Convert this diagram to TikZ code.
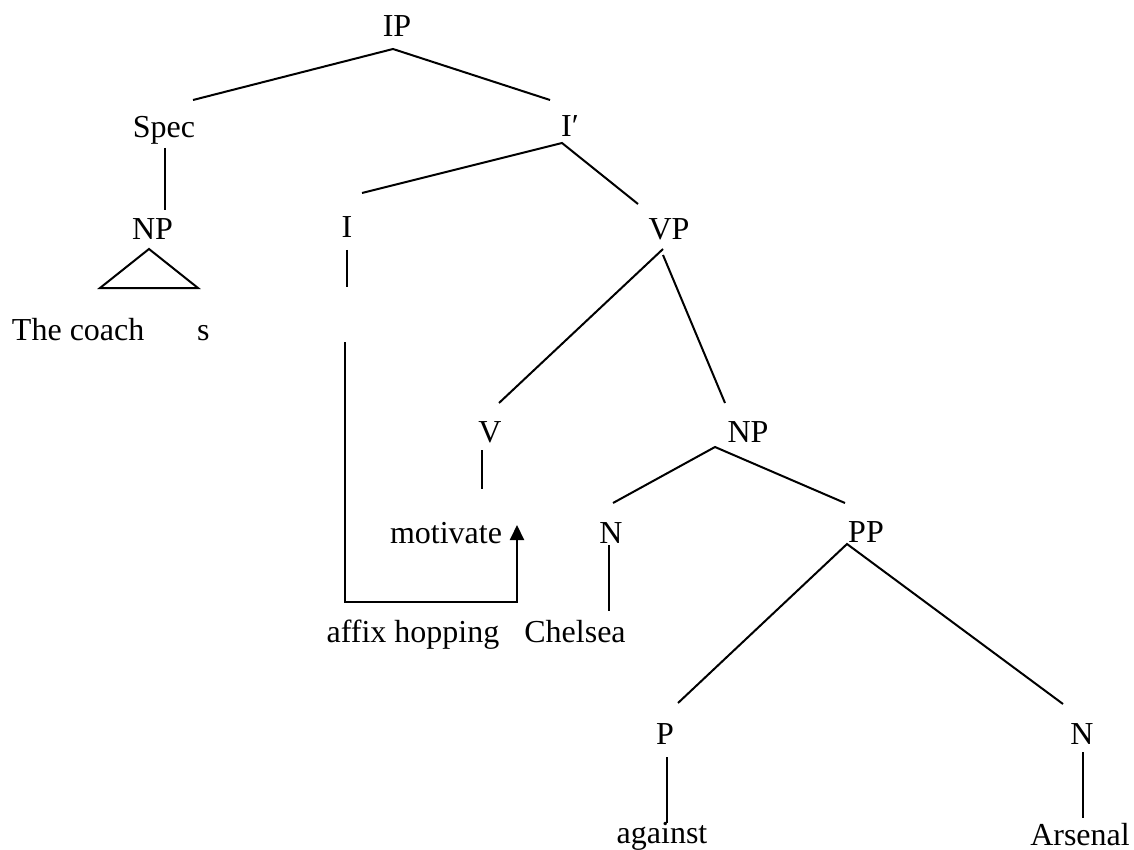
\documentclass[tikz,border=0pt]{standalone}
\usepackage{fontspec}
\setmainfont{Liberation Serif}
\usetikzlibrary{calc,arrows.meta}

\begin{document}
\begin{tikzpicture}[x=1pt,y=-1pt,
    lbl/.style={anchor=base,inner sep=0pt,outer sep=0pt,font=\fontsize{32}{38}\selectfont},
    branch/.style={line width=2pt,line cap=butt},
    hop/.style={line width=2pt,-{Triangle[width=14pt,length=15pt]}}]
  \useasboundingbox (0,0) rectangle (1134,850);

  % category labels and words (placed on their baselines)
  \node[lbl] (IP)       at (397,37)  {IP};
  \node[lbl] (Spec)     at (164,138) {Spec};
  \node[lbl] (Ibar)     at (570,137) {I′};
  \node[lbl] (NPa)      at (152.5,240) {NP};
  \node[lbl,anchor=base west] (coach) at (12,340) {The coach};
  \node[lbl,anchor=base west] (s)     at (197,340) {s};
  \node[lbl] (I)        at (347,238) {I};
  \node[lbl] (VP)       at (669,240) {VP};
  \node[lbl] (V)        at (490,442) {V};
  \node[lbl] (NPb)      at (748,442) {NP};
  \node[lbl] (motivate) at (446,543) {motivate};
  \node[lbl] (Na)       at (611,543) {N};
  \node[lbl] (PP)       at (866,542) {PP};
  \node[lbl] (affix)    at (413,642) {affix hopping};
  \node[lbl] (Chelsea)  at (575,642) {Chelsea};
  \node[lbl] (P)        at (665,744) {P};
  \node[lbl] (Nb)       at (1082,744) {N};
  \node[lbl] (against)  at (662,843) {against};
  \node[lbl] (Arsenal)  at (1080,845) {Arsenal};

  % branches
  \draw[branch] ($(Spec.base)+(29,-38)$) -- ($(IP.base)+(-4,12)$) -- ($(Ibar.base)+(-20,-37)$);
  \draw[branch] ($(Spec.base)+(1,10)$) -- ($(NPa.base)+(12.5,-30)$);
  \draw[branch] ($(NPa.base)+(-3.5,9)$) -- ($(NPa.base)+(-52.5,48)$) -- ($(NPa.base)+(45.5,48)$) -- cycle;
  \draw[branch] ($(I.base)+(15,-45)$) -- ($(Ibar.base)+(-8,6)$) -- ($(VP.base)+(-31,-36)$);
  \draw[branch] ($(I.base)+(0,12)$) -- ($(I.base)+(0,49)$);
  \draw[branch] ($(VP.base)+(-6,9)$) -- ($(V.base)+(9,-39)$);
  \draw[branch] ($(VP.base)+(-6,15)$) -- ($(NPb.base)+(-23,-39)$);
  \draw[branch] ($(V.base)+(-8,8)$) -- ($(motivate.base)+(36,-54)$);
  \draw[branch] ($(Na.base)+(2,-40)$) -- ($(NPb.base)+(-33,5)$) -- ($(PP.base)+(-21,-39)$);
  \draw[branch] ($(Na.base)+(-2,2)$) -- ($(Chelsea.base)+(34,-31)$);
  \draw[branch] ($(P.base)+(13,-41)$) -- ($(PP.base)+(-19,2)$) -- ($(Nb.base)+(-19,-40)$);
  \draw[branch] ($(P.base)+(2,13)$) -- ($(against.base)+(5,-20)$);
  \draw[branch] ($(Nb.base)+(1,8)$) -- ($(Arsenal.base)+(3,-27)$);

  % affix hopping: I lowers onto the verb
  \draw[hop] ($(I.base)+(-2,104)$) -- ($(I.base)+(-2,364)$) -| ($(motivate.base)+(71,-18)$);
\end{tikzpicture}
\end{document}
